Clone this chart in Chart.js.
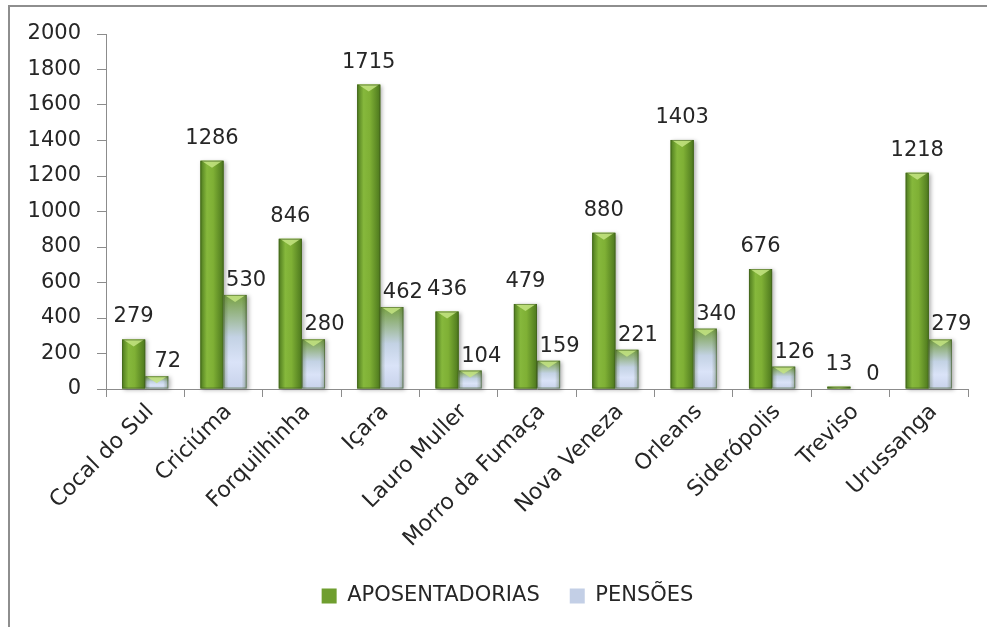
<!DOCTYPE html>
<html><head><meta charset="utf-8">
<script src="https://cdn.jsdelivr.net/npm/chart.js@4"></script>
<style>
html,body{margin:0;padding:0;background:#fff;overflow:hidden;}
#wrap{position:relative;width:987px;height:627px;overflow:hidden;}
#frame{position:absolute;left:8px;top:5px;width:1100px;height:800px;border-left:2px solid #8e8e8e;border-top:2px solid #8e8e8e;}
canvas{position:absolute;left:0;top:0;}
</style></head><body>
<div id="wrap"><div id="frame"></div><canvas id="c" width="987" height="627"></canvas></div>
<script>
const categories = ['Cocal do Sul','Criciúma','Forquilhinha','Içara','Lauro Muller','Morro da Fumaça','Nova Veneza','Orleans','Siderópolis','Treviso','Urussanga'];
const aposentadorias = [279,1286,846,1715,436,479,880,1403,676,13,1218];
const pensoes = [72,530,280,462,104,159,221,340,126,0,279];
const seriesNames = ['APOSENTADORIAS','PENSÕES'];
const yMin = 0, yMax = 2000, yStep = 200;

const FONT = 'DejaVu Sans';
const TXT = '#262626';
const AXIS = '#8c8c8c';

const shadePlugin = {
  id: 'shade',
  afterLayout(chart) {
    // shift the legend block slightly right, as in the reference
    if (chart.legend) { chart.legend.left += 25; }
  },
  afterDatasetsDraw(chart) {
    const ctx = chart.ctx;
    chart.data.datasets.forEach((ds, di) => {
      const meta = chart.getDatasetMeta(di);
      meta.data.forEach(el => {
        const p = el.getProps(['x','y','base','width'], true);
        const l = p.x - p.width/2, w = p.width, t = Math.min(p.y, p.base), h = Math.abs(p.base - p.y);
        if (h < 0.5) return;
        ctx.save();
        ctx.shadowColor = 'rgba(0,0,0,0.30)'; ctx.shadowBlur = 4; ctx.shadowOffsetX = 2; ctx.shadowOffsetY = 1;
        let g;
        if (di === 0) {
          g = ctx.createLinearGradient(l, 0, l + w, 0);
          g.addColorStop(0, '#4d7a1e'); g.addColorStop(0.28, '#86b83c'); g.addColorStop(0.55, '#7fb035'); g.addColorStop(1, '#4c771d');
        } else {
          g = ctx.createLinearGradient(0, t, 0, t + h);
          g.addColorStop(0, '#77a042'); g.addColorStop(0.45, '#c3d2e4'); g.addColorStop(0.72, '#dae3f8'); g.addColorStop(1, '#c8d2ea');
        }
        ctx.fillStyle = g;
        ctx.fillRect(l, t, w, h);
        ctx.restore();
        if (di === 1) {
          const e = ctx.createLinearGradient(l, 0, l + w, 0);
          e.addColorStop(0, 'rgba(70,95,50,0.40)'); e.addColorStop(0.22, 'rgba(70,95,50,0)');
          e.addColorStop(0.78, 'rgba(70,95,50,0)'); e.addColorStop(1, 'rgba(70,95,50,0.40)');
          ctx.fillStyle = e; ctx.fillRect(l, t, w, h);
        }
        const ch = Math.min(7, h);
        ctx.beginPath();
        ctx.moveTo(l + 1, t); ctx.lineTo(l + w - 1, t); ctx.lineTo(l + w/2, t + ch); ctx.closePath();
        ctx.fillStyle = 'rgba(196,228,130,0.85)';
        ctx.fill();
        ctx.strokeStyle = 'rgba(60,90,30,0.55)'; ctx.lineWidth = 1;
        ctx.strokeRect(l + 0.5, t + 0.5, w - 1, h - 1);
      });
    });
    ctx.save();
    ctx.font = '21px "' + FONT + '"';
    ctx.fillStyle = TXT;
    ctx.textAlign = 'center';
    ctx.textBaseline = 'alphabetic';
    chart.data.datasets.forEach((ds, di) => {
      const meta = chart.getDatasetMeta(di);
      meta.data.forEach((el, i) => {
        const p = el.getProps(['x','y'], true);
        const dx = di === 0 ? 0 : 11;
        const dy = di === 0 ? 17 : 9;
        ctx.fillText(String(ds.data[i]), p.x + dx, p.y - dy);
      });
    });
    ctx.restore();
  }
};

new Chart(document.getElementById('c'), {
  type: 'bar',
  data: {
    labels: categories,
    datasets: [
      { label: seriesNames[0], data: aposentadorias, backgroundColor: '#6f9e2f', borderWidth: 0 },
      { label: seriesNames[1], data: pensoes, backgroundColor: '#c3cfe6', borderWidth: 0 }
    ]
  },
  options: {
    responsive: false,
    animation: false,
    devicePixelRatio: 1,
    categoryPercentage: 0.59,
    barPercentage: 1.0,
    layout: { padding: { left: 22, right: 19, top: 34, bottom: 10.5 } },
    plugins: {
      legend: {
        position: 'bottom',
        labels: {
          font: { family: FONT, size: 21 },
          color: TXT,
          boxWidth: 15, boxHeight: 15,
          padding: 30
        }
      },
      tooltip: { enabled: false }
    },
    scales: {
      x: {
        offset: true,
        grid: { display: true, offset: true, drawOnChartArea: false, drawTicks: true, tickLength: 8, color: AXIS },
        border: { display: true, color: AXIS, width: 1 },
        ticks: { font: { family: FONT, size: 22 }, color: TXT, minRotation: 45, maxRotation: 45, autoSkip: false, padding: 2, labelOffset: 5 },
        afterFit(scale) { scale.height = 166.5; }
      },
      y: {
        min: yMin, max: yMax,
        grid: { display: true, drawOnChartArea: false, drawTicks: true, tickLength: 9, color: AXIS },
        border: { display: true, color: AXIS, width: 1 },
        ticks: { stepSize: yStep, font: { family: FONT, size: 21 }, color: TXT, padding: 16, callback: v => String(v) },
        afterFit(scale) { scale.width = 84; }
      }
    }
  },
  plugins: [shadePlugin]
});
</script>
</body></html>
